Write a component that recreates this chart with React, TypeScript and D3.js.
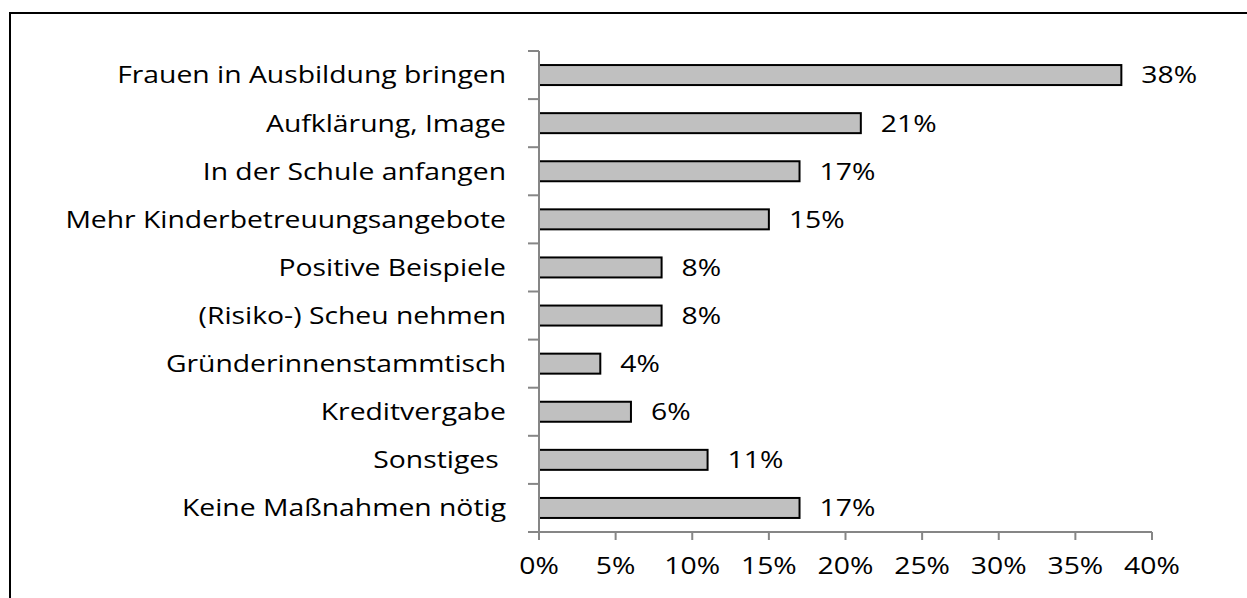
import React from "react";
import * as d3 from "d3";

const categories = [
  "Frauen in Ausbildung bringen",
  "Aufklärung, Image",
  "In der Schule anfangen",
  "Mehr Kinderbetreuungsangebote",
  "Positive Beispiele",
  "(Risiko-) Scheu nehmen",
  "Gründerinnenstammtisch",
  "Kreditvergabe",
  "Sonstiges\u00A0",
  "Keine Maßnahmen nötig",
];
const values = [38, 21, 17, 15, 8, 8, 4, 6, 11, 17];
const xTicks = [0, 5, 10, 15, 20, 25, 30, 35, 40];

export default function App() {
  const W = 1247, H = 598;
  const x0 = 539, x1 = 1152, yTop = 51, yBot = 532;
  const x = d3.scaleLinear().domain([0, 40]).range([x0, x1]);
  const y = d3.scaleBand<string>().domain(categories).range([yTop, yBot]);
  const barH = 20;
  const font = "'Open Sans', sans-serif";
  const fs = 24;
  const sx = 1.18;
  return (
    <svg width={W} height={H} style={{ position: "absolute", left: 0, top: 0, background: "#fff" }}>
      <rect x={10} y={13} width={W + 20} height={H + 20} fill="#fff" stroke="#000" strokeWidth={2} />
      {categories.map((c, i) => {
        const cy = (y(c) as number) + y.bandwidth() / 2;
        const lx = x(values[i]) + 20;
        return (
          <g key={c}>
            <rect x={x(0)} y={cy - barH / 2} width={x(values[i]) - x(0)} height={barH}
              fill="#c0c0c0" stroke="#000" strokeWidth={2} />
            <g transform={`translate(${lx},${cy}) scale(${sx},1)`}>
              <text x={0} y={0} dy="0.35em" fontFamily={font} fontSize={fs} fill="#000">
                {values[i]}%
              </text>
            </g>
            <g transform={`translate(506,${cy}) scale(${sx},1)`}>
              <text x={0} y={0} dy="0.35em" textAnchor="end" fontFamily={font} fontSize={fs} fill="#000" style={{ whiteSpace: "pre" }}>
                {c}
              </text>
            </g>
          </g>
        );
      })}
      <line x1={x0} x2={x0} y1={yTop} y2={yBot} stroke="#868686" strokeWidth={2} />
      {d3.range(categories.length + 1).map((i) => {
        const yy = yTop + i * y.step();
        return <line key={i} x1={528} x2={x0} y1={yy} y2={yy} stroke="#868686" strokeWidth={2} />;
      })}
      <line x1={528} x2={x1} y1={yBot} y2={yBot} stroke="#868686" strokeWidth={2} />
      {xTicks.map((t) => (
        <g key={t}>
          <line x1={x(t)} x2={x(t)} y1={yBot} y2={yBot + 8} stroke="#868686" strokeWidth={2} />
          <g transform={`translate(${x(t)},566) scale(${sx},1)`}>
            <text x={0} y={0} dy="0.35em" textAnchor="middle" fontFamily={font} fontSize={fs} fill="#000">
              {t}%
            </text>
          </g>
        </g>
      ))}
    </svg>
  );
}
